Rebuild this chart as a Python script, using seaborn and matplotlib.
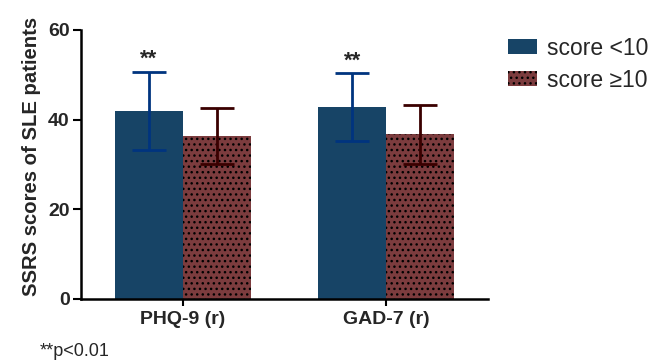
import matplotlib
matplotlib.use("Agg")
import matplotlib.pyplot as plt
import seaborn as sns
import pandas as pd

# ---- data ----
categories = ["PHQ-9 (r)", "GAD-7 (r)"]
groups = ["score <10", "score \u226510"]
means_low = [41.9, 42.8]
sd_low = [8.7, 7.5]
means_high = [36.4, 36.7]
sd_high = [6.2, 6.6]
significance = ["**", "**"]
footnote = "**p<0.01"

bar_colors = ["#174466", "#7c3c3e"]
err_colors = ["#00347f", "#3a0000"]

df = pd.DataFrame({
    "measure": categories * 2,
    "group": [groups[0]] * 2 + [groups[1]] * 2,
    "value": means_low + means_high,
})
sds = [sd_low, sd_high]

sns.set_style("ticks")
plt.rcParams["font.family"] = ["Liberation Sans", "DejaVu Sans"]
plt.rcParams["hatch.color"] = "black"
plt.rcParams["hatch.linewidth"] = 1.0

fig = plt.figure(figsize=(6.61, 3.64), dpi=100)
ax = fig.add_axes([0.1225, 0.1786, 0.6155, 0.739])

sns.barplot(data=df, x="measure", y="value", hue="group", order=categories,
            hue_order=groups, palette=bar_colors, errorbar=None, width=0.667,
            saturation=1, ax=ax, legend=False, linewidth=0)

bar_containers = list(ax.containers)
for gi, cont in enumerate(bar_containers):
    for bi, patch in enumerate(cont.patches):
        if gi == 1:
            patch.set_hatch("...")
            patch.set_edgecolor("black")
            patch.set_linewidth(0)
        xc = patch.get_x() + patch.get_width() / 2
        ax.errorbar(xc, patch.get_height(), yerr=sds[gi][bi], color=err_colors[gi],
                    elinewidth=2, capsize=12.5, capthick=2, zorder=3)
        if gi == 0:
            ax.text(xc, patch.get_height() + sds[gi][bi] + 0.5, significance[bi],
                    ha="center", va="bottom", fontsize=16, fontweight="bold")

ax.set_xlim(-0.5, 1.5)
ax.set_ylim(0, 60)
ax.set_yticks([0, 20, 40, 60])
ax.set_xlabel("")
ax.set_ylabel("SSRS scores of SLE patients", fontsize=14.6, fontweight="bold")
ax.yaxis.set_label_coords(-0.098, 0.53)
for lab in ax.get_xticklabels() + ax.get_yticklabels():
    lab.set_fontweight("bold")
    lab.set_fontsize(14)
ax.tick_params(axis="both", width=1.5, length=6, color="black")
ax.tick_params(axis="x", length=5, pad=4)
ax.tick_params(axis="y", pad=2)
sns.despine(ax=ax)
for s in ["left", "bottom"]:
    ax.spines[s].set_linewidth(1.8)
    ax.spines[s].set_color("black")

handles = [bar_containers[0].patches[0], bar_containers[1].patches[0]]
fig.legend(handles, groups, loc="upper left", bbox_to_anchor=(0.755, 0.924),
           frameon=False, fontsize=16.5, handlelength=1.25, handleheight=0.6,
           handletextpad=0.45, labelspacing=0.38, borderaxespad=0)

fig.text(0.06, 0.012, footnote, fontsize=13, ha="left", va="bottom")

fig.savefig("out.png", dpi=100)
